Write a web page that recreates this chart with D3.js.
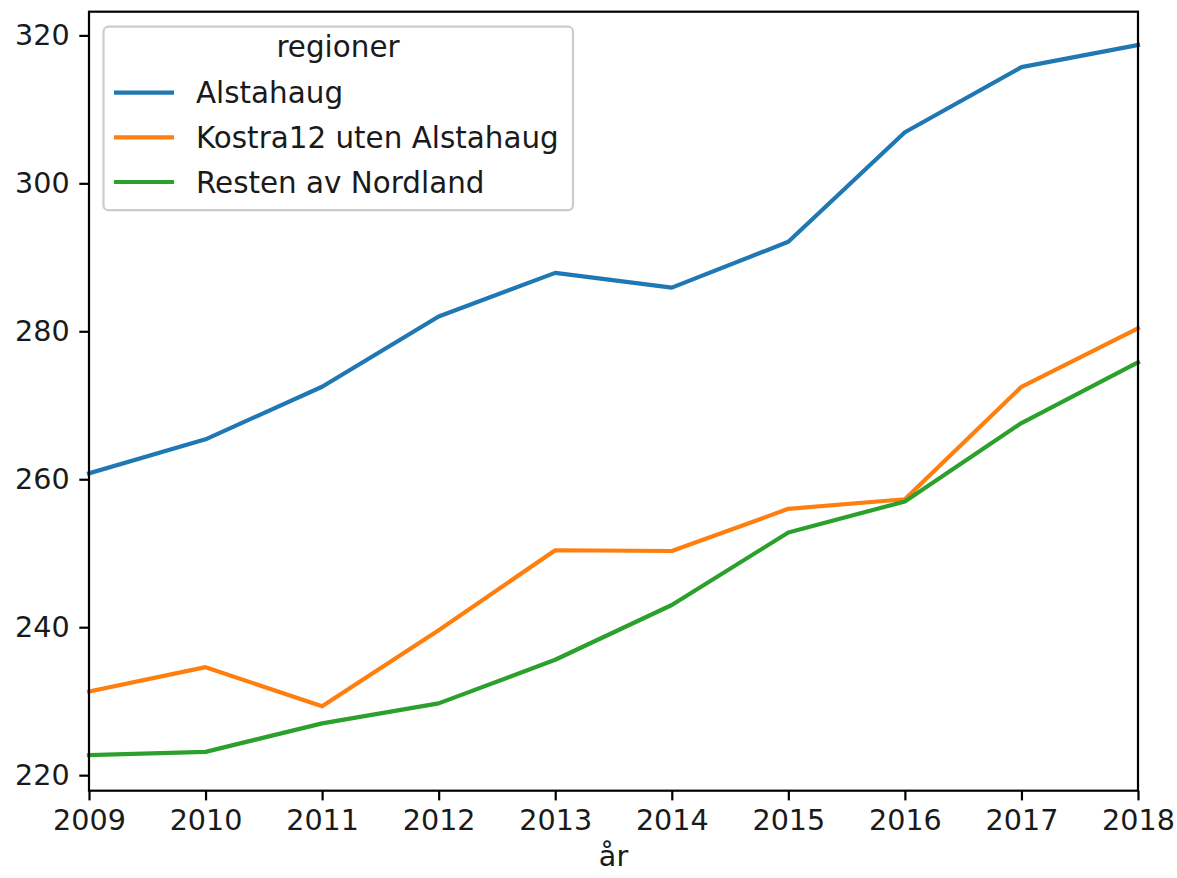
<!DOCTYPE html>
<html>
<head>
<meta charset="utf-8">
<script src="https://cdn.jsdelivr.net/npm/d3@7"></script>
<style>
  html, body { margin: 0; padding: 0; background: #fff; }
  svg { display: block; font-family: "DejaVu Sans", sans-serif; }
</style>
</head>
<body>
<svg id="chart" width="1177" height="878"></svg>
<script>
const years = [2009, 2010, 2011, 2012, 2013, 2014, 2015, 2016, 2017, 2018];
const seriesNames = ["Alstahaug", "Kostra12 uten Alstahaug", "Resten av Nordland"];
const alstahaug = [260.8, 265.4, 272.5, 282.0, 287.9, 285.9, 292.1, 306.9, 315.7, 318.7];
const kostra12 = [231.3, 234.6, 229.3, 239.6, 250.4, 250.3, 256.0, 257.3, 272.5, 280.4];
const resten = [222.7, 223.15, 227.0, 229.7, 235.6, 243.0, 252.8, 257.0, 267.6, 275.8];
const colors = ["#1f77b4", "#ff7f0e", "#2ca02c"];
const yTicks = [220, 240, 260, 280, 300, 320];
const legendTitle = "regioner";
const xLabel = "år";

const allSeries = [alstahaug, kostra12, resten];

const svg = d3.select("#chart");
const L = 89, R = 1138, T = 11.7, B = 790.7;
const fsTick = 28.6;
const fsLeg = 29.4;

const x = d3.scaleLinear().domain([2009, 2018]).range([L, R]);
const y = d3.scaleLinear().domain([217.9, 323.2]).range([B, T]);

const line = d3.line().x((d, i) => x(years[i])).y(d => y(d));

// lines
const gLines = svg.append("g");
allSeries.forEach((s, k) => {
  gLines.append("path")
    .datum(s)
    .attr("d", line)
    .attr("fill", "none")
    .attr("stroke", colors[k])
    .attr("stroke-width", 4.2)
    .attr("stroke-linejoin", "round")
    .attr("stroke-linecap", "square");
});

// axes
const xAxis = d3.axisBottom(x).tickValues(years).tickFormat(d3.format("d"))
  .tickSize(9.7).tickPadding(9.7).tickSizeOuter(0);
const yAxis = d3.axisLeft(y).tickValues(yTicks).tickFormat(d3.format("d"))
  .tickSize(9.7).tickPadding(9.7).tickSizeOuter(0);

const gx = svg.append("g").attr("transform", `translate(0,${B})`).call(xAxis);
const gy = svg.append("g").attr("transform", `translate(${L},0)`).call(yAxis);
[gx, gy].forEach(g => {
  g.select(".domain").remove();
  g.selectAll(".tick line").attr("stroke", "#000").attr("stroke-width", 2.2);
  g.selectAll(".tick text").attr("fill", "#1a1a1a").style("font-size", fsTick + "px")
    .style("font-family", "'DejaVu Sans', sans-serif");
});

// frame
svg.append("rect")
  .attr("x", L).attr("y", T).attr("width", R - L).attr("height", B - T)
  .attr("fill", "none").attr("stroke", "#000").attr("stroke-width", 2.2);

// x label
svg.append("text")
  .attr("x", (L + R) / 2).attr("y", 866)
  .attr("text-anchor", "middle")
  .attr("fill", "#1a1a1a")
  .style("font-size", fsTick + "px")
  .text(xLabel);

// legend
const lg = svg.append("g");
lg.append("rect")
  .attr("x", 103.5).attr("y", 26.7).attr("width", 469.5).attr("height", 183.5)
  .attr("rx", 5).attr("ry", 5)
  .attr("fill", "#fff").attr("fill-opacity", 0.8)
  .attr("stroke", "#cccccc").attr("stroke-width", 2.2);
lg.append("text")
  .attr("x", 338).attr("y", 57)
  .attr("text-anchor", "middle")
  .attr("fill", "#1a1a1a")
  .style("font-size", fsLeg + "px")
  .text(legendTitle);
const rowY = [92.7, 137.3, 182];
seriesNames.forEach((name, k) => {
  lg.append("line")
    .attr("x1", 114).attr("x2", 174)
    .attr("y1", rowY[k]).attr("y2", rowY[k])
    .attr("stroke", colors[k]).attr("stroke-width", 4.2);
  lg.append("text")
    .attr("x", 196).attr("y", rowY[k] + 10.5)
    .attr("fill", "#1a1a1a")
    .style("font-size", fsLeg + "px")
    .text(name);
});
</script>
</body>
</html>
